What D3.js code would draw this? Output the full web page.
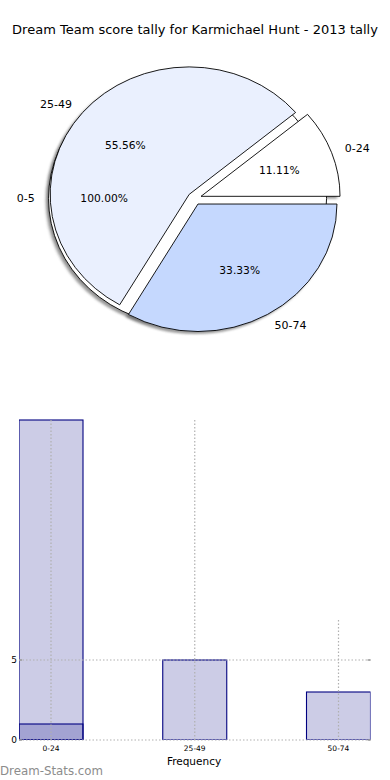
<!DOCTYPE html>
<html><head><meta charset="utf-8">
<script src="https://cdn.jsdelivr.net/npm/d3@7"></script>
<style>body{margin:0;background:#fff}svg{display:block;font-family:"DejaVu Sans",sans-serif}</style>
</head><body><svg id="c" width="390" height="780"></svg>
<script>
// ---- data ----
const title = "Dream Team score tally for Karmichael Hunt - 2013 tally";
const pieCategories = ["0-24", "25-49", "50-74"];
const pieValues = [1, 5, 3];
const pieColors = ["#ffffff", "#eaf0fe", "#c5d8fe"];
const outerCategories = ["0-5"];
const outerValues = [1];
const barCategories = ["0-24", "25-49", "50-74"];
const barBackValues = [20, 5, 3];
const barFrontValues = [1, 0, 0];
const yTicks = [0, 5];
const xLabel = "Frequency";
const watermark = "Dream-Stats.com";

(function () {
const svg = d3.select("#c");
svg.append("text").attr("x", 195).attr("y", 34).attr("text-anchor", "middle")
  .attr("font-size", 13).attr("fill", "#000").text(title);

// ---- pie (elliptical, exploded, like matplotlib) ----
const cx = 194.5, cy = 198.5, rx = 139, ry = 127.5, R = 100, explode = 0.05;
const arc = d3.arc().innerRadius(0).outerRadius(R);
const pieGen = d3.pie().sort(null).startAngle(Math.PI / 2).endAngle(Math.PI / 2 - 2 * Math.PI);
const defs = svg.append("defs");
defs.append("filter").attr("id", "blur").append("feGaussianBlur").attr("stdDeviation", 1);

function build(cats, vals, colors) {
  return pieGen(vals).map((d, i) => {
    const m = (d.startAngle + d.endAngle) / 2;
    return {d, cat: cats[i], color: colors[i], m,
      ox: explode * rx * Math.sin(m), oy: -explode * ry * Math.cos(m),
      pct: d3.format(".2f")(100 * vals[i] / d3.sum(vals)) + "%"};
  });
}
const outer = build(outerCategories, outerValues, ["#ffffff"]);
const inner = build(pieCategories, pieValues, pieColors);
const all = outer.concat(inner);
const pieG = svg.append("g");
pieG.selectAll("path.sh").data(all).join("path").attr("class", "sh")
  .attr("d", w => arc(w.d))
  .attr("transform", w => `translate(${cx + w.ox - 0.02 * rx},${cy + w.oy + 0.02 * ry}) scale(${rx / R},${ry / R})`)
  .attr("fill", "#5a5a5a").attr("opacity", 0.6).attr("filter", "url(#blur)");
pieG.selectAll("path.w").data(all).join("path").attr("class", "w")
  .attr("d", w => arc(w.d))
  .attr("transform", w => `translate(${cx + w.ox},${cy + w.oy}) scale(${rx / R},${ry / R})`)
  .attr("fill", w => w.color).attr("stroke", "#000").attr("stroke-width", 0.9)
  .attr("vector-effect", "non-scaling-stroke").attr("stroke-linejoin", "round");
all.forEach(w => {
  const s = Math.sin(w.m), c = Math.cos(w.m);
  pieG.append("text").attr("x", cx + w.ox + 1.1 * rx * s).attr("y", cy + w.oy - 1.1 * ry * c)
    .attr("text-anchor", s > 0.01 ? "start" : (s < -0.01 ? "end" : "middle"))
    .attr("dominant-baseline", "central").attr("font-size", 11).text(w.cat);
  pieG.append("text").attr("x", cx + w.ox + 0.6 * rx * s).attr("y", cy + w.oy - 0.6 * ry * c)
    .attr("text-anchor", "middle").attr("dominant-baseline", "central").attr("font-size", 10.7).text(w.pct);
});

// ---- bar chart ----
const left = 19, right = 370.5, topY = 420, bottom = 740;
const x = d3.scalePoint().domain(barCategories).range([51, 338.5]);
const bw = 64;
const y = d3.scaleLinear().domain([0, 20]).range([bottom, topY]);
const bg = svg.append("g");
defs.append("clipPath").attr("id", "clip").append("rect")
  .attr("x", left).attr("y", topY - 2).attr("width", right - left).attr("height", bottom - topY + 2);
const grid = "#b0b0b0";
const vTop = [20, 20, 7.5];
const bars = bg.append("g").attr("clip-path", "url(#clip)");
[barBackValues, barFrontValues].forEach(vals => {
  bars.selectAll(null).data(barCategories.map((c, i) => ({c, v: vals[i]})).filter(d => d.v > 0))
    .join("rect")
    .attr("x", d => x(d.c) - bw / 2).attr("width", bw)
    .attr("y", d => y(d.v)).attr("height", d => bottom - y(d.v))
    .attr("fill", "rgba(0,0,128,0.2)").attr("stroke", "#000080").attr("stroke-width", 1.1);
});
barCategories.forEach((c, i) => {
  bg.append("line").attr("x1", x(c)).attr("x2", x(c)).attr("y1", y(vTop[i])).attr("y2", bottom)
    .attr("stroke", grid).attr("stroke-width", 1.2).attr("stroke-dasharray", "1.5,2");
});
yTicks.forEach(t => {
  bg.append("line").attr("x1", left).attr("x2", right).attr("y1", y(t)).attr("y2", y(t))
    .attr("stroke", grid).attr("stroke-width", 1.2).attr("stroke-dasharray", "1.5,2");
  bg.append("line").attr("x1", left).attr("x2", left + 3).attr("y1", y(t)).attr("y2", y(t)).attr("stroke", "#999").attr("stroke-width", 1.5);
  bg.append("line").attr("x1", right - 3).attr("x2", right).attr("y1", y(t)).attr("y2", y(t)).attr("stroke", "#999").attr("stroke-width", 1.5);
  bg.append("text").attr("x", 17).attr("y", y(t)).attr("text-anchor", "end").attr("dominant-baseline", "central")
    .attr("font-size", 9).text(t);
});
barCategories.forEach(c => {
  bg.append("text").attr("x", x(c)).attr("y", 748).attr("text-anchor", "middle").attr("dominant-baseline", "central")
    .attr("font-size", 7.5).text(c);
});
bg.append("text").attr("x", 194).attr("y", 761).attr("text-anchor", "middle").attr("dominant-baseline", "central")
  .attr("font-size", 10.5).text(xLabel);
svg.append("text").attr("x", 0).attr("y", 775).attr("font-size", 11.8).attr("fill", "#8c8c8c").text(watermark);
})();
</script></body></html>
